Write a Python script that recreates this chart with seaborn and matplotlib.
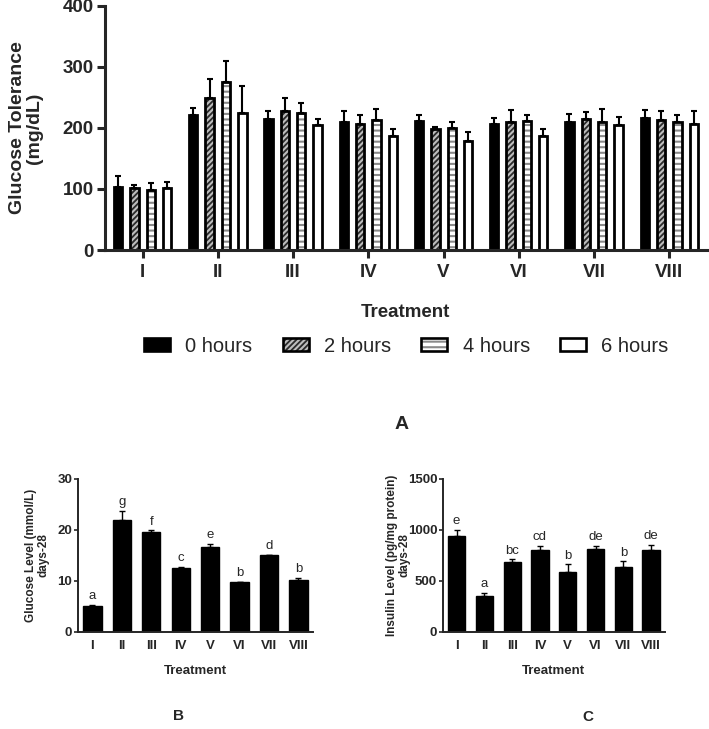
import numpy as np
import pandas as pd
import matplotlib
matplotlib.use('Agg')
import matplotlib.pyplot as plt
from matplotlib.patches import Patch, Rectangle
from matplotlib.legend_handler import HandlerTuple
import seaborn as sns

treatments = ['I', 'II', 'III', 'IV', 'V', 'VI', 'VII', 'VIII']
hours = ['0 hours', '2 hours', '4 hours', '6 hours']

# Panel A: glucose tolerance (mg/dL), mean and upper error
tol_0h = [103, 222, 215, 210, 212, 206, 210, 216]
tol_0h_err = [18, 10, 13, 17, 9, 11, 13, 14]
tol_2h = [102, 249, 227, 207, 199, 210, 214, 213]
tol_2h_err = [5, 31, 22, 14, 2, 20, 12, 15]
tol_4h = [98, 276, 225, 213, 200, 212, 210, 209]
tol_4h_err = [11, 33, 16, 18, 9, 9, 21, 12]
tol_6h = [101, 225, 204, 187, 179, 187, 205, 207]
tol_6h_err = [11, 44, 10, 12, 15, 11, 13, 20]

# Panel B: glucose level (mmol/L), day 28
glucose_level = [5.1, 22.0, 19.5, 12.6, 16.7, 9.8, 15.0, 10.2]
glucose_err = [0.1, 1.8, 0.4, 0.1, 0.5, 0.05, 0.05, 0.3]
glucose_letters = ['a', 'g', 'f', 'c', 'e', 'b', 'd', 'b']

# Panel C: insulin level (pg/mg protein), day 28
insulin_level = [936, 350, 686, 800, 582, 814, 631, 800]
insulin_err = [66, 32, 23, 43, 78, 32, 59, 53]
insulin_letters = ['e', 'a', 'bc', 'cd', 'b', 'de', 'b', 'de']

sns.set_style('ticks')
plt.rcParams['font.family'] = ['Liberation Sans', 'DejaVu Sans']
plt.rcParams['hatch.linewidth'] = 1.5

fig = plt.figure(figsize=(7.09, 7.29), dpi=100)

# ---------------- Panel A ----------------
axA = fig.add_axes([0.148, 0.657, 0.849, 0.335])
dfA = pd.DataFrame({
    'Treatment': treatments * 4,
    'Time': np.repeat(hours, len(treatments)),
    'value': tol_0h + tol_2h + tol_4h + tol_6h,
})
errA = [tol_0h_err, tol_2h_err, tol_4h_err, tol_6h_err]
sns.barplot(data=dfA, x='Treatment', y='value', hue='Time', order=treatments,
            hue_order=hours, palette=['black', '#2b2b2b', 'white', 'white'],
            saturation=1, width=0.87, gap=0.49, errorbar=None,
            edgecolor='black', linewidth=2.0, legend=False, ax=axA)

bar_conts = list(axA.containers)
# hatched fills: hatch colour follows edgecolor, so draw outline separately
styles = {1: ('#2b2b2b', '#bdbdbd', '//////'), 2: ('white', '#8a8a8a', '---')}
for i, cont in enumerate(bar_conts):
    if i not in styles:
        continue
    fc, hc, hatch = styles[i]
    for p in cont:
        p.set_facecolor(fc)
        p.set_edgecolor(hc)
        p.set_hatch(hatch)
        p.set_linewidth(0)
        axA.add_patch(Rectangle(p.get_xy(), p.get_width(), p.get_height(),
                                fill=False, edgecolor='black', linewidth=2.0,
                                zorder=p.get_zorder() + 0.1))

for cont, errs in zip(bar_conts, errA):
    xs = [p.get_x() + p.get_width() / 2 for p in cont]
    ys = [p.get_height() for p in cont]
    axA.errorbar(xs, ys, yerr=[np.zeros(len(errs)), errs], fmt='none',
                 ecolor='black', elinewidth=1.5, capsize=2.2, capthick=1.5, zorder=1)

axA.set_xlim(-0.5, 7.5)
axA.set_ylim(0, 400)
axA.set_yticks([0, 100, 200, 300, 400])
sns.despine(ax=axA)
for s in ['left', 'bottom']:
    axA.spines[s].set_linewidth(2.2)
axA.tick_params(axis='both', width=2.2, length=6, labelsize=13.5, pad=2)
axA.tick_params(axis='x', pad=4)
for lab in axA.get_xticklabels() + axA.get_yticklabels():
    lab.set_fontweight('bold')
axA.set_xlabel('Treatment', fontsize=13.5, fontweight='bold')
axA.xaxis.set_label_coords(0.5, -0.22)
axA.set_ylabel('Glucose Tolerance\n(mg/dL)', fontsize=14, fontweight='bold',
               linespacing=1.0)
axA.yaxis.set_label_coords(-0.103, 0.5)

handles = [
    Patch(facecolor='black', edgecolor='black', linewidth=1.9),
    (Patch(facecolor='#2b2b2b', edgecolor='#bdbdbd', hatch='//////', linewidth=0),
     Patch(fill=False, edgecolor='black', linewidth=1.9)),
    (Patch(facecolor='white', edgecolor='#8a8a8a', hatch='---', linewidth=0),
     Patch(fill=False, edgecolor='black', linewidth=1.9)),
    Patch(facecolor='white', edgecolor='black', linewidth=1.9),
]
fig.legend(handles, hours, loc='center', bbox_to_anchor=(0.573, 0.525), ncol=4,
           frameon=False, fontsize=14.5, handlelength=1.3, handleheight=0.6,
           handletextpad=0.75, columnspacing=1.5,
           handler_map={tuple: HandlerTuple(ndivide=1, pad=0)})
fig.text(0.566, 0.418, 'A', fontsize=14, fontweight='bold', ha='center', va='center')


# ---------------- Panels B and C ----------------
def small_panel(rect, values, errs, letters, ymax, step, ylabel, label_x):
    ax = fig.add_axes(rect)
    sns.barplot(x=treatments, y=values, color='black', saturation=1, width=0.62,
                edgecolor='black', linewidth=1, errorbar=None, ax=ax)
    cont = ax.containers[0]
    xs = [p.get_x() + p.get_width() / 2 for p in cont]
    ax.errorbar(xs, values, yerr=[np.zeros(len(errs)), errs], fmt='none',
                ecolor='black', elinewidth=1, capsize=2.5, capthick=1, zorder=1)
    for x, v, e, t in zip(xs, values, errs, letters):
        ax.annotate(t, (x, v + e), xytext=(0, 2), textcoords='offset points',
                    ha='center', va='bottom', fontsize=9.5)
    ax.set_xlim(-0.5, 7.5)
    ax.set_ylim(0, ymax)
    ax.set_yticks(np.arange(0, ymax + 1, step))
    sns.despine(ax=ax)
    for s in ['left', 'bottom']:
        ax.spines[s].set_linewidth(1.4)
    ax.tick_params(axis='y', width=1.2, length=3, labelsize=9.5, pad=1)
    ax.tick_params(axis='x', length=0, labelsize=9.5, pad=6)
    for lab in ax.get_xticklabels() + ax.get_yticklabels():
        lab.set_fontweight('bold')
    ax.set_xlabel('Treatment', fontsize=9.5, fontweight='bold')
    ax.xaxis.set_label_coords(0.5, -0.215)
    ax.set_ylabel(ylabel, fontsize=8.5, fontweight='bold', linespacing=1.05)
    ax.yaxis.set_label_coords(label_x, 0.5)
    return ax


axB = small_panel([0.1096, 0.1335, 0.332, 0.2095], glucose_level, glucose_err,
                  glucose_letters, 30, 10, 'Glucose Level (mmol/L)\ndays-28', -0.118)
axC = small_panel([0.6244, 0.1335, 0.3135, 0.2095], insulin_level, insulin_err,
                  insulin_letters, 1500, 500,
                  'Insulin Level (pg/mg protein)\ndays-28', -0.147)

fig.text(0.252, 0.018, 'B', fontsize=11, fontweight='bold', ha='center', va='center')
fig.text(0.829, 0.016, 'C', fontsize=11, fontweight='bold', ha='center', va='center')

fig.savefig('out.png', dpi=100)
